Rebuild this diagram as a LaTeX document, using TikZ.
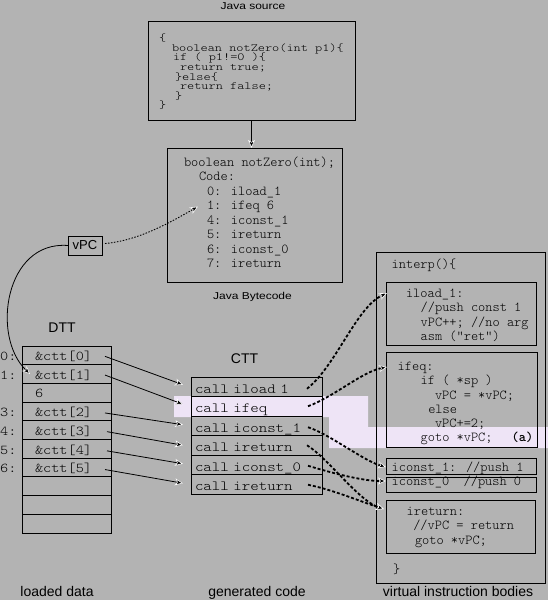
\documentclass[tikz,border=0pt]{standalone}
\usepackage{fontspec}
\setmainfont{Liberation Sans}
\newfontfamily\titlefont{Liberation Sans}[FakeStretch=1.2]
\newfontfamily\codefont{lmmonolt10-regular.otf}[BoldFont=lmmonolt10-bold.otf]
\newfontfamily\srcfont{lmmonolt10-regular.otf}[FakeStretch=1.24]
\newfontfamily\widecode{lmmonolt10-regular.otf}[FakeStretch=1.15]
\usetikzlibrary{arrows.meta}
\definecolor{bg}{RGB}{179,179,179}
\definecolor{lav}{RGB}{238,228,246}
\tikzset{
  mytip/.tip={Stealth[length=8pt,width=7pt,inset=2pt,color=white,fill=black,line width=0.6pt]},
  code/.style={font=\codefont\fontsize{13.7}{14}\selectfont, anchor=base west, inner sep=0pt, outer sep=0pt},
  srccode/.style={font=\srcfont\fontsize{11}{12}\selectfont, anchor=base west, inner sep=0pt, outer sep=0pt},
  ttl/.style={font=\titlefont\fontsize{10}{12}\selectfont, anchor=base, inner sep=0pt},
  lbl/.style={font=\fontsize{14}{16}\selectfont, anchor=base, inner sep=0pt},
  boxframe/.style={draw, line width=1pt, anchor=north west, inner sep=0pt, outer sep=0pt},
  dttcell/.style={draw, line width=0.9pt, anchor=north west, minimum width=89pt, minimum height=18.7pt,
    inner xsep=13pt, inner ysep=0pt, outer sep=0pt, text width=63pt, align=left,
    text height=10.4pt, text depth=0pt, font=\widecode\fontsize{13.5}{14}\selectfont},
  cttcell/.style={draw, line width=0.9pt, anchor=north west, minimum width=131pt, minimum height=19.5pt,
    inner xsep=4pt, inner ysep=0pt, outer sep=0pt, text width=123pt, align=left,
    text height=12.6pt, text depth=0pt, font=\widecode\fontsize{14}{15}\selectfont},
  idx/.style={font=\widecode\fontsize{13.5}{14}\selectfont, anchor=base west, inner sep=0pt},
  solidarrow/.style={line width=0.8pt, -{mytip}},
  jump/.style={line width=1.8pt, dash pattern=on 3pt off 2pt, -{mytip}},
  ptr/.style={line width=0.9pt, dash pattern=on 1.5pt off 1.5pt, -{mytip}}
}
\begin{document}
\begin{tikzpicture}[x=1pt,y=-1pt]
\useasboundingbox (0,0) rectangle (548,600);
\fill[bg] (0,0) rectangle (548,600);
% highlight band
\fill[lav] (174,396) -- (368,396) -- (368,427) -- (548,427) -- (548,448) -- (329,448) -- (329,417) -- (174,417) -- cycle;

% Java source
\node[ttl] (tsrc) at (253,9) {Java source};
\node[boxframe, minimum width=207pt, minimum height=99pt] (srcbox) at (148,21) {};
\node[srccode] (s1) at (159,41) {\{};
\node[srccode] (s2) at (172,51) {boolean notZero(int p1)\{};
\node[srccode] (s3) at (173,60.5) {if ( p1!=0 )\{};
\node[srccode] (s4) at (180,70) {return true;};
\node[srccode] (s5) at (175,80) {\}else\{};
\node[srccode] (s6) at (180,89.5) {return false;};
\node[srccode] (s7) at (175,99) {\}};
\node[srccode] (s8) at (159,108.5) {\}};

% Java bytecode
\node[boxframe, minimum width=175pt, minimum height=134pt] (bcbox) at (167,148) {};
\node[code] (b0) at (184,166) {boolean notZero(int);};
\node[code] (bc) at (199,180) {Code:};
\node[code] (bl0) at (207,195) {0: iload\_1};
\node[code] (bl1) at (207,209.3) {1: ifeq 6};
\node[code] (bl2) at (207,224) {4: iconst\_1};
\node[code] (bl3) at (207,238) {5: ireturn};
\node[code] (bl4) at (207,253) {6: iconst\_0};
\node[code] (bl5) at (207,267.3) {7: ireturn};
\node[ttl] (tbc) at (252.5,299) {Java Bytecode};
\draw[line width=1pt, -{mytip}] (srcbox.south) -- (srcbox.south |- bcbox.north);

% vPC
\node[draw, line width=1pt, minimum width=34pt, minimum height=19pt, inner sep=0pt, outer sep=0pt,
  font=\fontsize{13}{15}\selectfont] (vpc) at (85,245.5) {vPC};

% DTT
\node[lbl] (tdtt) at (62,332.7) {DTT};
\node[dttcell] (dtt0) at (22,346) {\&ctt[0]};
\node[dttcell] (dtt1) at (22,364.7) {\&ctt[1]};
\node[dttcell] (dtt2) at (22,383.4) {6};
\node[dttcell] (dtt3) at (22,402.1) {\&ctt[2]};
\node[dttcell] (dtt4) at (22,420.8) {\&ctt[3]};
\node[dttcell] (dtt5) at (22,439.5) {\&ctt[4]};
\node[dttcell] (dtt6) at (22,458.2) {\&ctt[5]};
\node[dttcell] (dtt7) at (22,476.9) {};
\node[dttcell] (dtt8) at (22,495.6) {};
\node[dttcell] (dtt9) at (22,514.3) {};
\node[idx] (i0) at (0,360.6) {0:};
\node[idx] (i1) at (0,379.3) {1:};
\node[idx] (i3) at (0,416.7) {3:};
\node[idx] (i4) at (0,435.4) {4:};
\node[idx] (i5) at (0,454.1) {5:};
\node[idx] (i6) at (0,472.8) {6:};

% CTT
\node[lbl] (tctt) at (244.5,363.3) {CTT};
\node[cttcell] (ctt0) at (191,377) {call iload 1};
\node[cttcell] (ctt1) at (191,396.5) {call ifeq};
\node[cttcell] (ctt2) at (191,416) {call iconst\_1};
\node[cttcell] (ctt3) at (191,435.5) {call ireturn};
\node[cttcell] (ctt4) at (191,455) {call iconst\_0};
\node[cttcell] (ctt5) at (191,474.5) {call ireturn};

% interp bodies
\node[boxframe, minimum width=169pt, minimum height=331pt] (interp) at (376,252) {};
\node[code] (ip) at (391.7,268) {interp()\{};
\node[boxframe, minimum width=150pt, minimum height=63pt] (iloadbox) at (386,282) {};
\node[code] (il1) at (406,297.5) {iload\_1:};
\node[code] (il2) at (420.7,311.7) {//push const 1};
\node[code] (il3) at (420.7,326) {vPC++; //no arg};
\node[code] (il4) at (420.7,340.5) {asm ("ret")};
\node[boxframe, minimum width=151pt, minimum height=95pt] (ifeqbox) at (386,352) {};
\node[code] (if1) at (397.7,370) {ifeq:};
\node[code] (if2) at (420.7,384.3) {if ( *sp )};
\node[code] (if3) at (435,399) {vPC = *vPC;};
\node[code] (if4) at (428.3,413) {else};
\node[code] (if5) at (435,427.7) {vPC+=2;};
\node[code] (if6) at (420.7,441.7) {goto *vPC;};
\node[code] (ifa) at (511.7,441.7) {\bfseries (a)};
\node[boxframe, minimum width=150pt, minimum height=16pt] (iconstonebox) at (386,458) {};
\node[code] (ic1) at (391.7,471.7) {iconst\_1: //push 1};
\node[boxframe, minimum width=150pt, minimum height=15pt] (iconstzerobox) at (386,477) {};
\node[code] (ic0) at (391.7,485.5) {iconst\_0\ \ //push 0};
\node[boxframe, minimum width=149pt, minimum height=53pt] (ireturnbox) at (386,500) {};
\node[code] (ir1) at (406.7,515) {ireturn:};
\node[code] (ir2) at (413.3,529.3) {//vPC = return};
\node[code] (ir3) at (415,544) {goto *vPC;};
\node[code] (ipend) at (393,573) {\}};

% bottom labels
\node[lbl] (lld) at (57,596) {loaded data};
\node[lbl] (lgc) at (257,596) {generated code};
\node[lbl] (lvi) at (458,596) {virtual instruction bodies};

% vPC connectors
\draw[ptr] ([shift={(3,-2)}]vpc.east) .. controls +(35,-3) and +(-25,14) .. ([shift={(-9,0)}]bl1.west);
\draw[solidarrow] (vpc.west) .. controls +(-63,-5) and +(-39,-38) .. ([shift={(8,0)}]dtt1.west);

% DTT -> CTT
\draw[solidarrow] ([shift={(-6,1)}]dtt0.east) -- ([shift={(-8,-2)}]ctt0.west);
\draw[solidarrow] ([shift={(-6,1)}]dtt1.east) -- ([shift={(-8,-2)}]ctt1.west);
\draw[solidarrow] ([shift={(-6,1.5)}]dtt3.east) -- ([shift={(-8,-1)}]ctt2.west);
\draw[solidarrow] ([shift={(-4,1.5)}]dtt4.east) -- ([shift={(-8,0)}]ctt3.west);
\draw[solidarrow] ([shift={(-4,2)}]dtt5.east) -- ([shift={(-8,-1)}]ctt4.west);
\draw[solidarrow] ([shift={(-6,2)}]dtt6.east) -- ([shift={(-8,-1)}]ctt5.west);

% CTT -> bodies
\draw[jump] ([shift={(-15,2)}]ctt0.east) .. controls +(29,-23) and +(-31,15) .. ([shift={(1,11)}]iloadbox.north west);
\draw[jump] ([shift={(-14,0)}]ctt1.east) .. controls +(25,-9) and +(-25,5) .. ([shift={(1,15)}]ifeqbox.north west);
\draw[jump] ([shift={(-14,1.5)}]ctt2.east) .. controls +(20,6) and +(-22,-6) .. ([shift={(0,1)}]iconstonebox.west);
\draw[jump] ([shift={(-15,0)}]ctt3.east) .. controls +(20,12) and +(-25,-8) .. ([shift={(-2,9)}]ireturnbox.north west);
\draw[jump] ([shift={(-14,1)}]ctt4.east) .. controls +(20,6) and +(-25,0) .. ([shift={(0,4)}]iconstzerobox.north west);
\draw[jump] ([shift={(-14,0.5)}]ctt5.east) .. controls +(25,5) and +(-25,-8) .. ([shift={(-2,9)}]ireturnbox.north west);
\end{tikzpicture}
\end{document}
